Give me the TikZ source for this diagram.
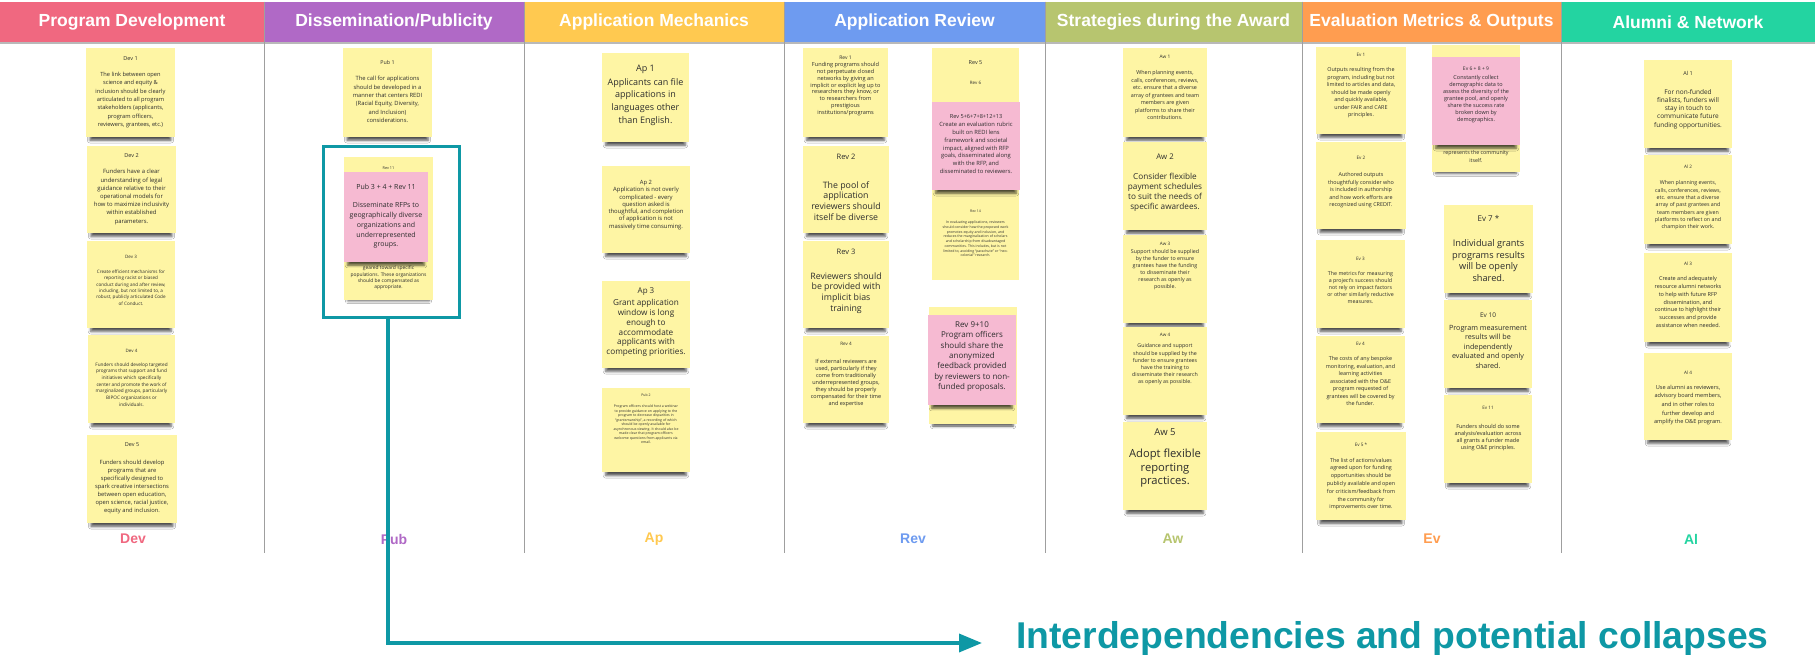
\documentclass[tikz,border=0pt]{standalone}
\usepackage{fontspec}
\setmainfont{Open Sans}
\newfontfamily\headfont{Liberation Sans}
\usetikzlibrary{shadows.blur,arrows.meta}
\definecolor{noteY}{RGB}{254,245,164}
\definecolor{noteP}{RGB}{246,186,210}
\definecolor{ink}{RGB}{45,45,45}
\definecolor{cDev}{RGB}{240,104,128}
\definecolor{cPub}{RGB}{176,105,198}
\definecolor{cAp}{RGB}{255,201,80}
\definecolor{cRev}{RGB}{110,155,240}
\definecolor{cAw}{RGB}{183,197,111}
\definecolor{cEv}{RGB}{255,157,80}
\definecolor{cAl}{RGB}{35,212,161}
\definecolor{tealc}{RGB}{14,152,165}

% sticky note: style, name, x1, y1, x2, y2
\newcommand\stk[6]{%
  \node[#1, minimum width={#5-#3}, minimum height={#6-#4}] (#2) at ({(#3+#5)/2},{(#4+#6)/2}) {};}
% note text: name, x, y, size, line skip, text
\newcommand\ntxt[6]{%
  \node[txt, font=\fontsize{#4}{#5}\selectfont] (#1) at (#2,#3) {#6};}

\begin{document}
\begin{tikzpicture}[x=1pt,y=-1pt,
  note/.style={fill=noteY, draw=none, inner sep=0pt, outer sep=0pt,
    blur shadow={shadow xshift=0pt, shadow yshift=-8pt, shadow scale=0.91,
      shadow blur radius=3pt, shadow opacity=70}},
  pnote/.style={note, fill=noteP},
  txt/.style={align=center, inner sep=0pt, outer sep=0pt, text=ink},
  hdr/.style={inner sep=0pt, outer sep=0pt, text=white, minimum height=40.5,
    font=\headfont\bfseries\fontsize{17.5}{20}\selectfont},
  lbl/.style={inner sep=0pt, font=\headfont\bfseries\fontsize{14}{16}\selectfont},
  divider/.style={draw=gray!75, line width=0.8pt},
  callout/.style={draw=tealc, line width=3pt, inner sep=0pt, outer sep=0pt},
  link/.style={draw=tealc, line width=3.5pt, -{Triangle[length=23pt,width=18pt]}}
]
\useasboundingbox (0,0) rectangle (1815,654);
\fill[white] (0,0) rectangle (1815,654);

% ---- column headers ----
\node[hdr, fill=cDev, minimum width=264] (hDev) at (132,21.75) {Program Development};
\node[hdr, fill=cPub, minimum width=260] (hPub) at (394,21.75) {Dissemination/Publicity};
\node[hdr, fill=cAp,  minimum width=260] (hAp)  at (654,21.75) {Application Mechanics};
\node[hdr, fill=cRev, minimum width=261] (hRev) at (914.5,21.75) {Application Review};
\node[hdr, fill=cAw,  minimum width=257] (hAw)  at (1173.5,21.75) {Strategies during the Award};
\node[hdr, fill=cEv,  minimum width=259] (hEv)  at (1431.5,21.75) {Evaluation Metrics \& Outputs};
\node[hdr, fill=cAl,  minimum width=254] (hAl)  at (1688,21.75) {Alumni \& Network};
\fill[gray!55] (0,42) rectangle (1815,43.5);

% ---- column dividers ----
\foreach \cx in {264,524,784,1045,1302,1561}
  \draw[divider] (\cx,1.5) -- (\cx,553);

% ---- Program Development ----
\stk{note}{dev1}{86}{48}{175}{137}
\ntxt{dev1t}{130.5}{59}{5.5}{7}{Dev 1}
\ntxt{dev1b}{130.5}{100}{5.7}{8.3}{The link between open\\science and equity \&\\inclusion should be clearly\\articulated to all program\\stakeholders (applicants,\\program officers,\\reviewers, grantees, etc.)}
\stk{note}{dev2}{87}{146}{176}{233}
\ntxt{dev2t}{131.5}{156}{5.5}{7}{Dev 2}
\ntxt{dev2b}{131.5}{197}{5.9}{8.2}{Funders have a clear\\understanding of legal\\guidance relative to their\\operational models for\\how to maximize inclusivity\\within established\\parameters.}
\stk{note}{dev3}{87}{241}{175}{328}
\ntxt{dev3t}{131}{257}{4.5}{6}{Dev 3}
\ntxt{dev3b}{131}{287.5}{4.6}{6.4}{Create efficient mechanisms for\\reporting racist or biased\\conduct during and after review,\\including, but not limited to, a\\robust, publicly articulated Code\\of Conduct.}
\stk{note}{dev4}{88}{335}{175}{423}
\ntxt{dev4t}{131.5}{351}{4.5}{6}{Dev 4}
\ntxt{dev4b}{131.5}{384.5}{4.7}{6.7}{Funders should develop targeted\\programs that support and fund\\initiatives which specifically\\center and promote the work of\\marginalized groups, particularly\\BIPOC organizations or\\individuals.}
\stk{note}{dev5}{87}{435}{177}{523}
\ntxt{dev5t}{132}{445}{5.5}{7}{Dev 5}
\ntxt{dev5b}{132}{486.5}{5.8}{8}{Funders should develop\\programs that are\\specifically designed to\\spark creative intersections\\between open education,\\open science, racial justice,\\equity and inclusion.}

% ---- Dissemination/Publicity ----
\stk{note}{pub1}{343}{48}{432}{137}
\ntxt{pub1t}{387.5}{63}{5.3}{7}{Pub 1}
\ntxt{pub1b}{387.5}{99.5}{5.8}{8.3}{The call for applications\\should be developed in a\\manner that centers REDI\\(Racial Equity, Diversity,\\and Inclusion)\\considerations.}
\stk{note}{pub34}{344}{157}{433}{300}
\ntxt{pub34t}{388.5}{168}{3.8}{5}{Rev 11}
\ntxt{pub34b}{388.5}{278}{4.9}{6.4}{geared toward specific\\populations. These organizations\\should be compensated as\\appropriate.}
\stk{pnote}{pubm}{344}{172}{428}{262}
\ntxt{pubmt}{386}{187}{7}{9}{Pub 3 + 4 + Rev 11}
\ntxt{pubmb}{386}{225.5}{7}{9.8}{Disseminate RFPs to\\geographically diverse\\organizations and\\underrepresented\\groups.}
\node[callout, minimum width=136, minimum height=171] (pubbox) at (391,231.5) {};

% ---- Application Mechanics ----
\stk{note}{ap1}{602}{53}{689}{142}
\ntxt{ap1t}{645.5}{69}{9}{11}{Ap 1}
\ntxt{ap1b}{645.5}{102}{9}{12.8}{Applicants can file\\applications in\\languages other\\than English.}
\stk{note}{ap2}{602}{166}{690}{253}
\ntxt{ap2t}{646}{183}{5.8}{7}{Ap 2}
\ntxt{ap2b}{646}{208.5}{5.9}{7.3}{Application is not overly\\complicated - every\\question asked is\\thoughtful, and completion\\of application is not\\massively time consuming.}
\stk{note}{ap3}{602}{281}{690}{368}
\ntxt{ap3t}{646}{292}{8}{10}{Ap 3}
\ntxt{ap3b}{646}{328}{8.2}{9.8}{Grant application\\window is long\\enough to\\accommodate\\applicants with\\competing priorities.}
\stk{note}{ap4}{602}{388}{690}{472}
\ntxt{ap4t}{646}{395}{3.5}{4.5}{Pub 2}
\ntxt{ap4b}{646}{424.5}{3.5}{4.5}{Program officers should host a webinar\\to provide guidance on applying to the\\program to decrease disparities in\\``grantsmanship'', a recording of which\\should be openly available for\\asynchronous viewing. It should also be\\made clear that program officers\\welcome questions from applicants via\\email.}

% ---- Application Review ----
\stk{note}{rev1}{803}{48}{888}{137}
\ntxt{rev1t}{845.5}{58}{5}{6}{Rev 1}
\ntxt{rev1b}{845.5}{89}{5.6}{6.9}{Funding programs should\\not perpetuate closed\\networks by giving an\\implicit or explicit leg up to\\researchers they know, or\\to researchers from\\prestigious\\institutions/programs}
\stk{note}{rev2}{803}{146}{889}{233}
\ntxt{rev2t}{846}{157}{7.5}{9}{Rev 2}
\ntxt{rev2b}{846}{201}{8.8}{10.8}{The pool of\\application\\reviewers should\\itself be diverse}
\stk{note}{rev3}{803}{241}{889}{328}
\ntxt{rev3t}{846}{252}{7.5}{9}{Rev 3}
\ntxt{rev3b}{846}{293}{8.8}{10.8}{Reviewers should\\be provided with\\implicit bias\\training}
\stk{note}{rev4}{803}{336}{889}{423}
\ntxt{rev4t}{846}{344}{4.6}{6}{Rev 4}
\ntxt{rev4b}{846}{383.5}{5.5}{7}{If external reviewers are\\used, particularly if they\\come from traditionally\\underrepresented groups,\\they should be properly\\compensated for their time\\and expertise}

\stk{note}{rev5}{932}{48}{1019}{280}
\ntxt{rev5t}{975.5}{63}{5.5}{7}{Rev 5}
\ntxt{rev6t}{975.5}{83}{4.5}{6}{Rev 6}
\ntxt{rev14t}{975.5}{211}{3.5}{4.5}{Rev 14}
\ntxt{rev14b}{975.5}{239}{3.5}{4.7}{In evaluating applications, reviewers\\should consider how the proposed work\\promotes equity and inclusion, and\\reduces the marginalization of scholars\\and scholarship from disadvantaged\\communities. This includes, but is not\\limited to, avoiding ``parachute'' or ``neo-\\colonial'' research.}
\stk{pnote}{revm}{932}{102}{1020}{190}
\ntxt{revmt}{976}{116}{5.6}{7}{Rev 5+6+7+8+12+13}
\ntxt{revmb}{976}{148}{5.8}{7.8}{Create an evaluation rubric\\built on REDI lens\\framework and societal\\impact, aligned with RFP\\goals, disseminated along\\with the RFP, and\\disseminated to reviewers.}
\stk{note}{rev9}{929}{307}{1017}{424}
\stk{pnote}{rev910}{928}{315}{1016}{405}
\ntxt{rev910t}{972}{325}{8}{10}{Rev 9+10}
\ntxt{rev910b}{972}{361.5}{8}{10.4}{Program officers\\should share the\\anonymized\\feedback provided\\by reviewers to non-\\funded proposals.}

% ---- Strategies during the Award ----
\stk{note}{aw1}{1123}{48}{1207}{137}
\ntxt{aw1t}{1165}{57}{4.8}{6}{Aw 1}
\ntxt{aw1b}{1165}{95}{5.4}{7.5}{When planning events,\\calls, conferences, reviews,\\etc. ensure that a diverse\\array of grantees and team\\members are given\\platforms to share their\\contributions.}
\stk{note}{aw2}{1123}{142}{1207}{230}
\ntxt{aw2t}{1165}{157}{7.8}{9}{Aw 2}
\ntxt{aw2b}{1165}{192.5}{8.2}{10.2}{Consider flexible\\payment schedules\\to suit the needs of\\specific awardees.}
\stk{note}{aw3}{1123}{235}{1207}{323}
\ntxt{aw3t}{1165}{244}{4.6}{6}{Aw 3}
\ntxt{aw3b}{1165}{270}{5.3}{7}{Support should be supplied\\by the funder to ensure\\grantees have the funding\\to disseminate their\\research as openly as\\possible.}
\stk{note}{aw4}{1123}{327}{1207}{415}
\ntxt{aw4t}{1165}{335}{4.6}{6}{Aw 4}
\ntxt{aw4b}{1165}{364.5}{5.3}{7.2}{Guidance and support\\should be supplied by the\\funder to ensure grantees\\have the training to\\disseminate their research\\as openly as possible.}
\stk{note}{aw5}{1123}{422}{1207}{510}
\ntxt{aw5t}{1165}{432}{9.5}{11}{Aw 5}
\ntxt{aw5b}{1165}{468.5}{11.2}{13.5}{Adopt flexible\\reporting\\practices.}

% ---- Evaluation Metrics & Outputs ----
\stk{note}{ev1}{1316}{47}{1406}{134}
\ntxt{ev1t}{1361}{55}{4.6}{6}{Ev 1}
\ntxt{ev1b}{1361}{93}{5.4}{7.5}{Outputs resulting from the\\program, including but not\\limited to articles and data,\\should be made openly\\and quickly available,\\under FAIR and CARE\\principles.}
\stk{note}{ev2}{1316}{142}{1406}{229}
\ntxt{ev2t}{1361}{158}{4.6}{6}{Ev 2}
\ntxt{ev2b}{1361}{190.5}{5.4}{7.5}{Authored outputs\\thoughtfully consider who\\is included in authorship\\and how work efforts are\\recognized using CREDIT.}
\stk{note}{ev3}{1316}{240}{1405}{328}
\ntxt{ev3t}{1360.5}{259}{4.6}{6}{Ev 3}
\ntxt{ev3b}{1360.5}{287.5}{5.3}{7}{The metrics for measuring\\a project's success should\\not rely on impact factors\\or other similarly reductive\\measures.}
\stk{note}{ev4}{1316}{336}{1405}{423}
\ntxt{ev4t}{1360.5}{344}{4.6}{6}{Ev 4}
\ntxt{ev4b}{1360.5}{381}{5.4}{7.5}{The costs of any bespoke\\monitoring, evaluation, and\\learning activities\\associated with the O\&E\\program requested of\\grantees will be covered by\\the funder.}
\stk{note}{ev5}{1316}{432}{1406}{520}
\ntxt{ev5t}{1361}{445}{4.6}{6}{Ev 5 *}
\ntxt{ev5b}{1361}{484}{5.4}{7.8}{The list of actions/values\\agreed upon for funding\\opportunities should be\\publicly available and open\\for criticism/feedback from\\the community for\\improvements over time.}

\stk{note}{ev6}{1432}{45}{1520}{172}
\ntxt{ev6b}{1476}{156.5}{5.3}{8}{represents the community\\itself.}
\stk{pnote}{evm}{1432}{57}{1520}{145}
\ntxt{evmt}{1476}{69}{5}{6.5}{Ev 6 + 8 + 9}
\ntxt{evmb}{1476}{99}{5.5}{7.1}{Constantly collect\\demographic data to\\assess the diversity of the\\grantee pool, and openly\\share the success rate\\broken down by\\demographics.}
\stk{note}{ev7}{1444}{205}{1533}{293}
\ntxt{ev7t}{1488.5}{218}{8}{10}{Ev 7 *}
\ntxt{ev7b}{1488.5}{260.5}{9.2}{11.4}{Individual grants\\programs results\\will be openly\\shared.}
\stk{note}{ev10}{1444}{300}{1532}{388}
\ntxt{ev10t}{1488}{315}{6.5}{8}{Ev 10}
\ntxt{ev10b}{1488}{346.5}{7.2}{9.5}{Program measurement\\results will be\\independently\\evaluated and openly\\shared.}
\stk{note}{ev11}{1444}{395}{1532}{483}
\ntxt{ev11t}{1488}{408}{4.6}{6}{Ev 11}
\ntxt{ev11b}{1488}{437.5}{5.5}{6.8}{Funders should do some\\analysis/evaluation across\\all grants a funder made\\using O\&E principles.}

% ---- Alumni & Network ----
\stk{note}{al1}{1644}{60}{1732}{148}
\ntxt{al1t}{1688}{73}{5.5}{7}{Al 1}
\ntxt{al1b}{1688}{109}{6.5}{8.2}{For non-funded\\finalists, funders will\\stay in touch to\\communicate future\\funding opportunities.}
\stk{note}{al2}{1644}{155}{1732}{244}
\ntxt{al2t}{1688}{167}{4.6}{6}{Al 2}
\ntxt{al2b}{1688}{205.5}{5.3}{7.3}{When planning events,\\calls, conferences, reviews,\\etc. ensure that a diverse\\array of past grantees and\\team members are given\\platforms to reflect on and\\champion their work.}
\stk{note}{al3}{1644}{253}{1732}{342}
\ntxt{al3t}{1688}{264}{4.6}{6}{Al 3}
\ntxt{al3b}{1688}{302}{5.5}{7.8}{Create and adequately\\resource alumni networks\\to help with future RFP\\dissemination, and\\continue to highlight their\\successes and provide\\assistance when needed.}
\stk{note}{al4}{1644}{353}{1732}{440}
\ntxt{al4t}{1688}{373}{4.6}{6}{Al 4}
\ntxt{al4b}{1688}{405}{5.6}{8.7}{Use alumni as reviewers,\\advisory board members,\\and in other roles to\\further develop and\\amplify the O\&E program.}

% ---- column footers ----
\node[lbl, text=cDev] (fDev) at (133,539) {Dev};
\node[lbl, text=cPub] (fPub) at (394,539) {Pub};
\node[lbl, text=cAp]  (fAp)  at (654,539) {Ap};
\node[lbl, text=cRev] (fRev) at (913,539) {Rev};
\node[lbl, text=cAw]  (fAw)  at (1173,539) {Aw};
\node[lbl, text=cEv]  (fEv)  at (1432,539) {Ev};
\node[lbl, text=cAl]  (fAl)  at (1691,539) {Al};

% ---- callout arrow and caption ----
\node[anchor=base west, inner sep=0pt, text=tealc,
  font=\headfont\bfseries\fontsize{37.3}{40}\selectfont] (caption) at (1016,648)
  {Interdependencies and potential collapses};
\coordinate (bend) at (388,643);
\coordinate (tip) at (982,643);
\draw[link] (bend |- pubbox.south) -- (bend) -- (tip);
\end{tikzpicture}
\end{document}
